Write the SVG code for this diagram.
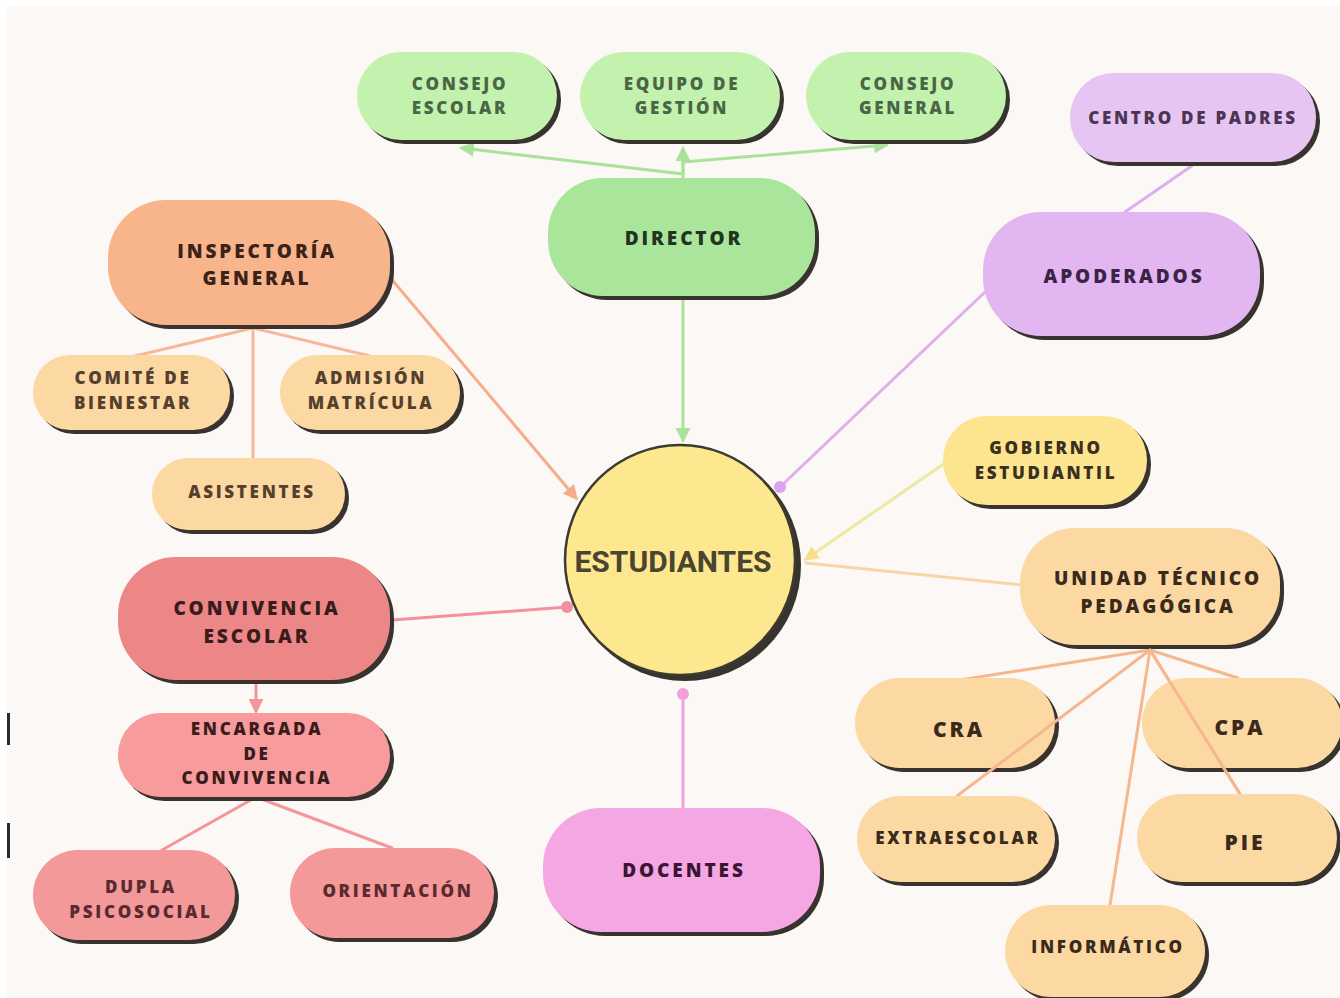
<svg xmlns="http://www.w3.org/2000/svg" width="1340" height="998" viewBox="0 0 1340 998">
<style>
.sh{fill:#38332e}
.t{font-family:"Open Sans","Liberation Sans",sans-serif;font-weight:800;text-anchor:middle}
.ts{font-size:17px;letter-spacing:2.7px}
.tb{font-size:19px;letter-spacing:2.9px}
.tl{font-size:21px;letter-spacing:3px}
.g1{fill:#c2f2ae}.g2{fill:#a9e69b}
.p1{fill:#e6c5f3}.p2{fill:#e1b6f1}
.o1{fill:#f8b48b}.o2{fill:#fcd8a3}
.y1{fill:#fde48f}
.r1{fill:#ec8687}.r2{fill:#f79b9c}.r3{fill:#f3999a}
.k1{fill:#f5a7e4}
.c{fill:none;stroke-width:3;stroke-linecap:round}
</style>
<defs>
<marker id="ag" viewBox="0 0 10 10" refX="8" refY="5" markerWidth="5" markerHeight="5" orient="auto"><path d="M0,0 L10,5 L0,10 z" fill="#a9e39a"/></marker>
<marker id="ao" viewBox="0 0 10 10" refX="8" refY="5" markerWidth="5" markerHeight="5" orient="auto"><path d="M0,0 L10,5 L0,10 z" fill="#f5ad8a"/></marker>
<marker id="ar" viewBox="0 0 10 10" refX="8" refY="5" markerWidth="5" markerHeight="5" orient="auto"><path d="M0,0 L10,5 L0,10 z" fill="#f4959c"/></marker>
<marker id="ay" viewBox="0 0 10 10" refX="8" refY="5" markerWidth="5" markerHeight="5" orient="auto"><path d="M0,0 L10,5 L0,10 z" fill="#f7df8c"/></marker>
<marker id="dp" viewBox="0 0 10 10" refX="5" refY="5" markerWidth="4" markerHeight="4"><circle cx="5" cy="5" r="5" fill="#d9a3ef"/></marker>
<marker id="dr" viewBox="0 0 10 10" refX="5" refY="5" markerWidth="4" markerHeight="4"><circle cx="5" cy="5" r="5" fill="#f2909e"/></marker>
<marker id="dk" viewBox="0 0 10 10" refX="5" refY="5" markerWidth="4" markerHeight="4"><circle cx="5" cy="5" r="5" fill="#f2a0dc"/></marker>
</defs>
<rect x="0" y="0" width="1340" height="998" fill="#ffffff"/>
<rect x="7" y="6" width="1333" height="992" fill="#fcf8f5"/>
<rect x="7" y="713" width="3" height="32" fill="#2a2a2a"/>
<rect x="7" y="823" width="3" height="35" fill="#2a2a2a"/>

<g id="connectors">
<line class="c" stroke="#a9e39a" x1="683" y1="174" x2="462" y2="148" marker-end="url(#ag)"/>
<line class="c" stroke="#a9e39a" x1="683" y1="174" x2="683" y2="149" marker-end="url(#ag)"/>
<line class="c" stroke="#a9e39a" x1="683" y1="162" x2="886" y2="145" marker-end="url(#ag)"/>
<line class="c" stroke="#a9e39a" x1="683" y1="298" x2="683" y2="440" marker-end="url(#ag)"/>
<line class="c" stroke="#f5ad8a" x1="388" y1="275" x2="576" y2="498" marker-end="url(#ao)"/>
<line class="c" stroke="#f5b898" x1="253" y1="328" x2="135" y2="356"/>
<line class="c" stroke="#f5b898" x1="253" y1="328" x2="370" y2="356"/>
<line class="c" stroke="#f5b898" x1="253" y1="328" x2="253" y2="458"/>
<line class="c" stroke="#dcb0ef" x1="985" y1="292" x2="780" y2="487" marker-end="url(#dp)"/>
<line class="c" stroke="#dcb0ef" x1="1193" y1="165" x2="1125" y2="212"/>
<line class="c" stroke="#eee8a2" x1="945" y1="463" x2="806" y2="559" marker-end="url(#ay)"/>
<line class="c" stroke="#f6d6a8" x1="1022" y1="585" x2="806" y2="563"/>
<line class="c" stroke="#f2909e" x1="392" y1="620" x2="567" y2="607" marker-end="url(#dr)"/>
<line class="c" stroke="#f4959c" x1="256" y1="682" x2="256" y2="711" marker-end="url(#ar)"/>
<line class="c" stroke="#f4959c" x1="256" y1="797" x2="162" y2="850"/>
<line class="c" stroke="#f4959c" x1="256" y1="797" x2="392" y2="848"/>
<line class="c" stroke="#f2a0dc" x1="683" y1="808" x2="683" y2="694" marker-end="url(#dk)"/>
<line class="c" stroke="#f5b88e" x1="1150" y1="650" x2="960" y2="680"/>
<line class="c" stroke="#f5b88e" x1="1150" y1="650" x2="1238" y2="678"/>
<line class="c" stroke="#f5b88e" x1="1150" y1="650" x2="1240" y2="794"/>
<line class="c" stroke="#f5b88e" x1="1150" y1="650" x2="1110" y2="905"/>
</g>

<g id="n-consejo-escolar"><rect class="sh" x="361" y="56" width="200" height="88" rx="44"/><rect class="g1" x="357" y="52" width="200" height="88" rx="44"/><text class="t ts" fill="#4b6646" x="460" y="90">CONSEJO</text><text class="t ts" fill="#4b6646" x="460" y="114">ESCOLAR</text></g>
<g id="n-equipo-gestion"><rect class="sh" x="584" y="56" width="200" height="88" rx="44"/><rect class="g1" x="580" y="52" width="200" height="88" rx="44"/><text class="t ts" fill="#4b6646" x="682" y="90">EQUIPO DE</text><text class="t ts" fill="#4b6646" x="682" y="114">GESTIÓN</text></g>
<g id="n-consejo-general"><rect class="sh" x="810" y="56" width="200" height="88" rx="44"/><rect class="g1" x="806" y="52" width="200" height="88" rx="44"/><text class="t ts" fill="#4b6646" x="908" y="90">CONSEJO</text><text class="t ts" fill="#4b6646" x="908" y="114">GENERAL</text></g>
<g id="n-centro-padres"><rect class="sh" x="1074" y="77" width="246" height="89" rx="44"/><rect class="p1" x="1070" y="73" width="246" height="89" rx="44"/><text class="t ts" fill="#4a3652" x="1193" y="124" letter-spacing="2.2">CENTRO DE PADRES</text></g>
<line class="c" stroke="#a9e39a" x1="683" y1="178" x2="683" y2="160"/>
<g id="n-director"><rect class="sh" x="552" y="182" width="267" height="118" rx="55"/><rect class="g2" x="548" y="178" width="267" height="118" rx="55"/><text class="t tb" fill="#23331f" x="684" y="245">DIRECTOR</text></g>
<g id="n-apoderados"><rect class="sh" x="987" y="216" width="277" height="124" rx="58"/><rect class="p2" x="983" y="212" width="277" height="124" rx="58"/><text class="t tb" fill="#3a2346" x="1124" y="283">APODERADOS</text></g>
<g id="n-inspectoria"><rect class="sh" x="112" y="204" width="282" height="125" rx="58"/><rect class="o1" x="108" y="200" width="282" height="125" rx="58"/><text class="t tb" fill="#3a2318" x="257" y="258">INSPECTORÍA</text><text class="t tb" fill="#3a2318" x="257" y="285">GENERAL</text></g>
<g id="n-comite"><rect class="sh" x="37" y="359" width="197" height="75" rx="37"/><rect class="o2" x="33" y="355" width="197" height="75" rx="37"/><text class="t ts" fill="#54402c" x="133" y="384">COMITÉ DE</text><text class="t ts" fill="#54402c" x="133" y="409">BIENESTAR</text></g>
<g id="n-admision"><rect class="sh" x="284" y="359" width="180" height="75" rx="37"/><rect class="o2" x="280" y="355" width="180" height="75" rx="37"/><text class="t ts" fill="#54402c" x="371" y="384">ADMISIÓN</text><text class="t ts" fill="#54402c" x="371" y="409">MATRÍCULA</text></g>
<g id="n-asistentes"><rect class="sh" x="156" y="462" width="193" height="72" rx="36"/><rect class="o2" x="152" y="458" width="193" height="72" rx="36"/><text class="t ts" fill="#54402c" x="252" y="498">ASISTENTES</text></g>
<g id="n-estudiantes"><circle cx="685" cy="565" r="116" fill="#38332e"/><circle cx="680" cy="560" r="115" fill="#fde78f" stroke="#3d3a2e" stroke-width="2.5"/><text font-family="Roboto,'Liberation Sans',sans-serif" font-weight="700" font-size="30" text-anchor="middle" fill="#4a4530" x="673" y="572">ESTUDIANTES</text></g>
<g id="n-gobierno"><rect class="sh" x="947" y="420" width="204" height="89" rx="44"/><rect class="y1" x="943" y="416" width="204" height="89" rx="44"/><text class="t ts" fill="#3a3020" x="1046" y="454">GOBIERNO</text><text class="t ts" fill="#3a3020" x="1046" y="479">ESTUDIANTIL</text></g>
<g id="n-utp"><rect class="sh" x="1024" y="532" width="260" height="117" rx="55"/><rect class="o2" x="1020" y="528" width="260" height="117" rx="55"/><text class="t tb" fill="#3a2a1c" x="1158" y="585">UNIDAD TÉCNICO</text><text class="t tb" fill="#3a2a1c" x="1158" y="613">PEDAGÓGICA</text></g>
<g id="n-convivencia"><rect class="sh" x="122" y="561" width="272" height="123" rx="58"/><rect class="r1" x="118" y="557" width="272" height="123" rx="58"/><text class="t tb" fill="#3a1c1c" x="257" y="615">CONVIVENCIA</text><text class="t tb" fill="#3a1c1c" x="257" y="643">ESCOLAR</text></g>
<g id="n-encargada"><rect class="sh" x="122" y="717" width="272" height="84" rx="42"/><rect class="r2" x="118" y="713" width="272" height="84" rx="42"/><text class="t ts" fill="#3a1c1c" x="257" y="735">ENCARGADA</text><text class="t ts" fill="#3a1c1c" x="257" y="760">DE</text><text class="t ts" fill="#3a1c1c" x="257" y="784">CONVIVENCIA</text></g>
<g id="n-dupla"><rect class="sh" x="37" y="854" width="202" height="90" rx="45"/><rect class="r3" x="33" y="850" width="202" height="90" rx="45"/><text class="t ts" fill="#5a2a2e" x="141" y="893">DUPLA</text><text class="t ts" fill="#5a2a2e" x="141" y="918">PSICOSOCIAL</text></g>
<g id="n-orientacion"><rect class="sh" x="294" y="852" width="204" height="90" rx="45"/><rect class="r3" x="290" y="848" width="204" height="90" rx="45"/><text class="t ts" fill="#5a2a2e" x="398" y="897">ORIENTACIÓN</text></g>
<g id="n-docentes"><rect class="sh" x="547" y="812" width="277" height="124" rx="58"/><rect class="k1" x="543" y="808" width="277" height="124" rx="58"/><text class="t tb" fill="#3a1634" x="684" y="877">DOCENTES</text></g>
<g id="n-cra"><rect class="sh" x="859" y="682" width="200" height="90" rx="45"/><rect class="o2" x="855" y="678" width="200" height="90" rx="45"/><text class="t tl" fill="#3a2a1c" x="959" y="737">CRA</text></g>
<g id="n-cpa"><rect class="sh" x="1146" y="682" width="200" height="90" rx="45"/><rect class="o2" x="1142" y="678" width="200" height="90" rx="45"/><text class="t tl" fill="#3a2a1c" x="1240" y="735">CPA</text></g>
<line class="c" stroke="#f5b88e" x1="1150" y1="650" x2="957" y2="796"/>
<line class="c" stroke="#f5b88e" x1="1150" y1="650" x2="1240" y2="794"/>
<g id="n-extraescolar"><rect class="sh" x="861" y="800" width="198" height="86" rx="43"/><rect class="o2" x="857" y="796" width="198" height="86" rx="43"/><text class="t ts" fill="#3a2a1c" x="958" y="844">EXTRAESCOLAR</text></g>
<g id="n-pie"><rect class="sh" x="1141" y="798" width="200" height="88" rx="44"/><rect class="o2" x="1137" y="794" width="200" height="88" rx="44"/><text class="t tl" fill="#3a2a1c" x="1245" y="850">PIE</text></g>
<g id="n-informatico"><rect class="sh" x="1009" y="909" width="200" height="92" rx="46"/><rect class="o2" x="1005" y="905" width="200" height="92" rx="46"/><text class="t ts" fill="#3a2a1c" x="1108" y="953">INFORMÁTICO</text></g>
</svg>
